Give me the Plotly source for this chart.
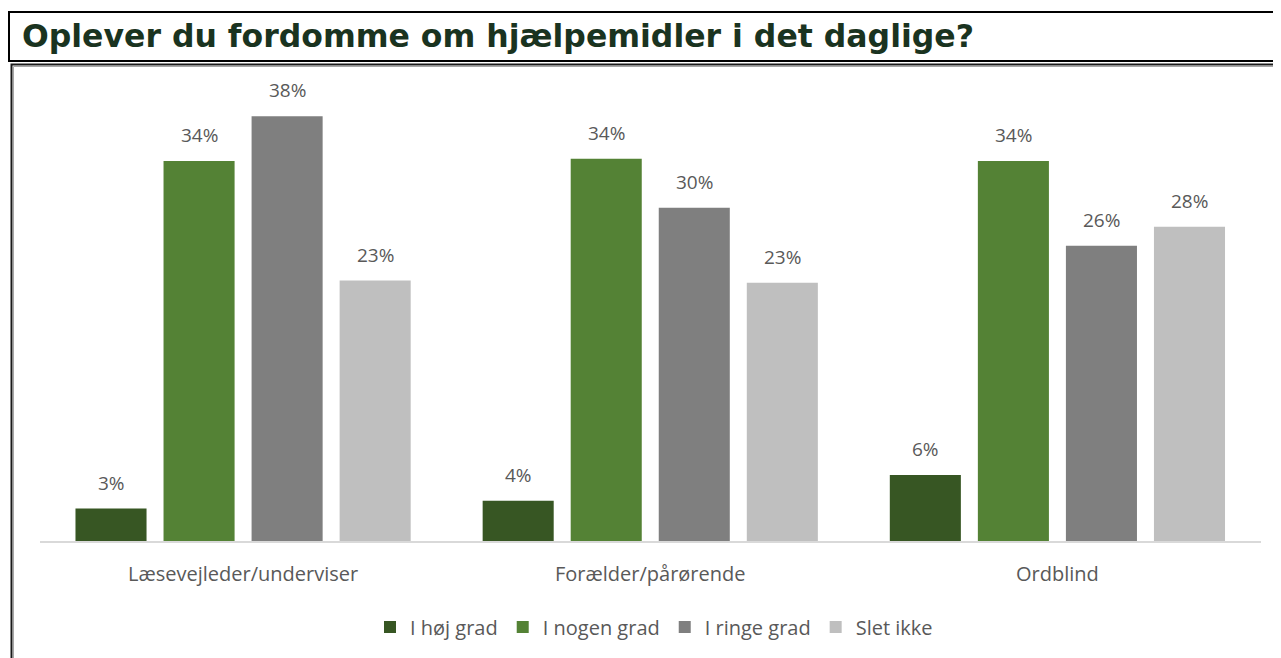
import plotly.graph_objects as go

categories = ["Læsevejleder/underviser", "Forælder/pårørende", "Ordblind"]
series_names = ["I høj grad", "I nogen grad", "I ringe grad", "Slet ikke"]
hoej_grad = [2.9, 3.6, 5.9]
nogen_grad = [34.0, 34.2, 34.0]
ringe_grad = [38.0, 29.8, 26.4]
slet_ikke = [23.3, 23.1, 28.1]
series_values = [hoej_grad, nogen_grad, ringe_grad, slet_ikke]
colors = ["#375623", "#548235", "#7f7f7f", "#bfbfbf"]

W, H = 1281, 658
OFF = 8  # page body margin
FONT = "Open Sans"
TXT = "#595959"


def px(x):
    return (x - OFF) / W


def py(y):
    return 1 - (y - OFF) / H


x_dom = [px(39.5), px(1261)]
y_dom = [py(541), py(93.8)]
bargap = 0.135
bargroupgap = 0.193

fig = go.Figure()
for name, vals, col in zip(series_names, series_values, colors):
    fig.add_trace(go.Bar(x=categories, y=vals, name=name,
                         marker=dict(color=col, line=dict(width=0))))

# data labels
plot_w = (x_dom[1] - x_dom[0]) * W
slot = (1 - bargap) * plot_w / len(categories) / len(series_names)
annotations = []
for i, vals in enumerate(series_values):
    for c, v in zip(categories, vals):
        annotations.append(dict(
            x=c, y=v, xref="x", yref="y", text=f"{round(v)}%", showarrow=False,
            xshift=(i - (len(series_names) - 1) / 2) * slot, yshift=26,
            yanchor="middle", font=dict(family=FONT, size=19, color=TXT)))

shapes = [
    dict(type="rect", xref="paper", yref="paper", x0=px(9), x1=px(1300), y0=py(12), y1=py(61),
         line=dict(color="black", width=2), fillcolor="rgba(0,0,0,0)"),
    dict(type="rect", xref="paper", yref="paper", x0=px(11.5), x1=px(1300), y0=py(64.5), y1=py(700),
         line=dict(color="#1a1a1a", width=2), fillcolor="rgba(0,0,0,0)"),
    dict(type="rect", xref="paper", yref="paper", x0=px(13.5), x1=px(1300), y0=py(66.5), y1=py(700),
         line=dict(color="#a6a6a6", width=1), fillcolor="rgba(0,0,0,0)"),
]

fig.update_layout(
    width=W, height=H,
    margin=dict(l=0, r=0, t=0, b=0),
    paper_bgcolor="white", plot_bgcolor="white",
    barmode="group", bargap=bargap, bargroupgap=bargroupgap,
    title=dict(text="<b>Oplever du fordomme om hjælpemidler i det daglige?</b>",
               x=px(22), xanchor="left", xref="paper", y=py(36), yanchor="middle", yref="paper",
               font=dict(family="DejaVu Sans", size=31.5, color="#1a3320")),
    xaxis=dict(domain=x_dom, showline=True, linecolor="#d9d9d9", linewidth=1.5,
               showgrid=False, ticks="", ticklabelstandoff=14,
               tickfont=dict(family=FONT, size=20, color=TXT)),
    yaxis=dict(domain=y_dom, range=[0, 40], visible=False, showgrid=False, zeroline=False),
    legend=dict(orientation="h", x=px(654), xanchor="center", y=py(627), yanchor="middle",
                font=dict(family=FONT, size=20, color=TXT), itemwidth=30, traceorder="normal"),
    annotations=annotations,
    shapes=shapes,
    showlegend=True,
)

fig.write_html("out.html")
